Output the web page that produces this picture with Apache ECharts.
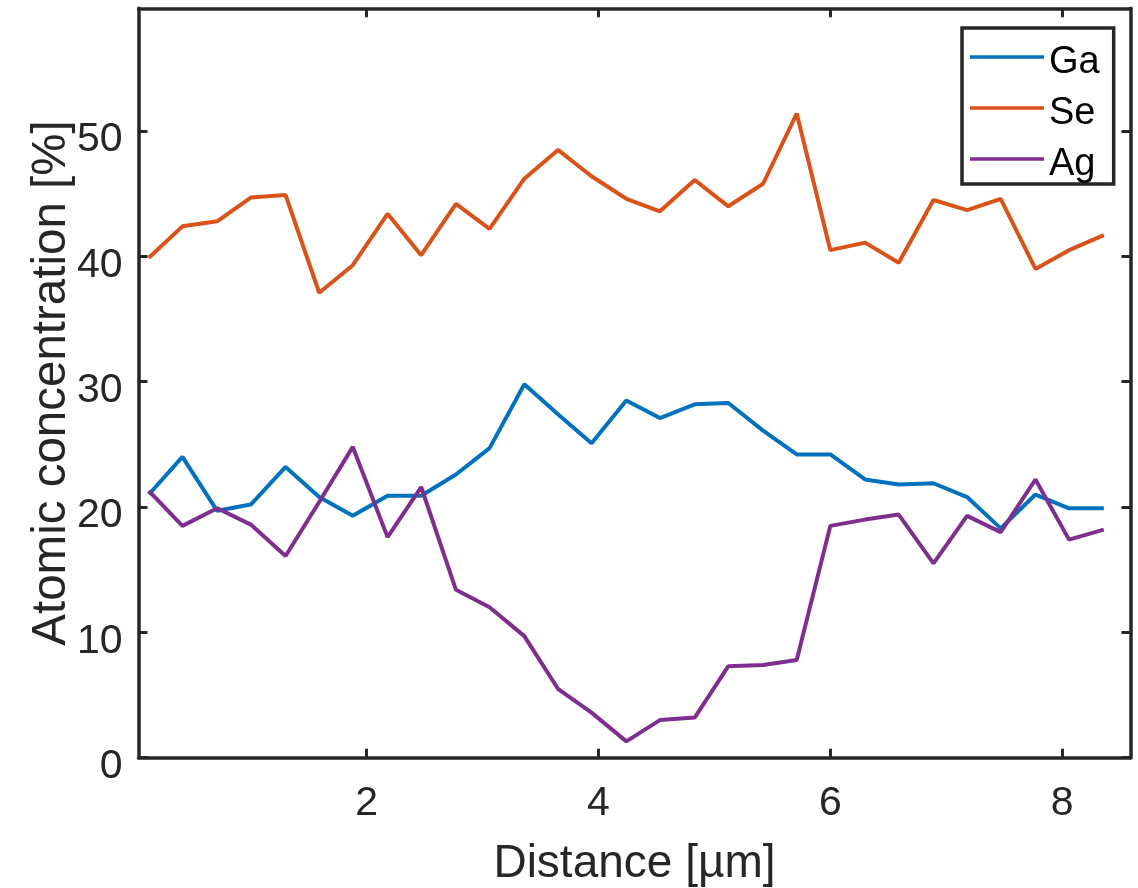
<!DOCTYPE html>
<html>
<head>
<meta charset="utf-8">
<script src="https://cdn.jsdelivr.net/npm/echarts@6/dist/echarts.min.js"></script>
<style>
html, body { margin: 0; padding: 0; background: #fff; }
#chart { width: 1138px; height: 888px; }
</style>
</head>
<body>
<div id="chart"></div>
<script>
const distance = [0.12, 0.41, 0.71, 1.00, 1.30, 1.59, 1.88, 2.18, 2.47, 2.77, 3.06, 3.36, 3.65, 3.94, 4.24, 4.53, 4.83, 5.12, 5.42, 5.71, 6.00, 6.30, 6.59, 6.89, 7.18, 7.47, 7.77, 8.06, 8.36];
const ga = [21.0, 24.0, 19.7, 20.2, 23.2, 20.8, 19.3, 20.9, 20.9, 22.6, 24.7, 29.8, 27.4, 25.1, 28.5, 27.1, 28.2, 28.3, 26.1, 24.2, 24.2, 22.2, 21.8, 21.9, 20.8, 18.3, 21.0, 19.9, 19.9];
const se = [39.9, 42.4, 42.8, 44.7, 44.9, 37.1, 39.3, 43.4, 40.1, 44.2, 42.2, 46.2, 48.5, 46.4, 44.6, 43.6, 46.1, 44.0, 45.8, 51.4, 40.5, 41.1, 39.5, 44.5, 43.7, 44.6, 39.0, 40.5, 41.7];
const ag = [21.3, 18.5, 19.9, 18.6, 16.1, 20.4, 24.8, 17.6, 21.6, 13.4, 12.0, 9.7, 5.5, 3.6, 1.3, 3.0, 3.2, 7.3, 7.4, 7.8, 18.5, 19.0, 19.4, 15.5, 19.3, 18.0, 22.2, 17.4, 18.2];
const seriesNames = ['Ga', 'Se', 'Ag'];
const seriesColors = ['#0072BD', '#D95319', '#7E2F8E'];
const xTicks = [2, 4, 6, 8];
const yTicks = [0, 10, 20, 30, 40, 50];

const FONT = 'Liberation Sans, Arial, sans-serif';
const AX = '#262626';
const pairs = arr => distance.map((d, i) => [d, arr[i]]);
const values = [ga, se, ag];

const axisLine = { show: true, onZero: false, lineStyle: { color: AX, width: 3.5 } };
const tickStyle = { show: true, inside: true, length: 9, lineStyle: { color: AX, width: 3 } };

const chart = echarts.init(document.getElementById('chart'), null, { renderer: 'canvas' });
chart.setOption({
  backgroundColor: '#ffffff',
  animation: false,
  grid: { left: 138.5, right: 7.5, top: 8.3, bottom: 130.3, containLabel: false, outerBoundsMode: 'none' },
  xAxis: [
    {
      type: 'value', position: 'bottom', min: 0.031, max: 8.59,
      name: 'Distance [µm]', nameLocation: 'middle', nameGap: 84, nameMoveOverlap: false,
      nameTextStyle: { fontFamily: FONT, fontSize: 46, color: AX },
      axisLine: axisLine,
      axisTick: Object.assign({}, tickStyle, { customValues: xTicks }),
      axisLabel: { customValues: xTicks, fontFamily: FONT, fontSize: 41, color: AX, margin: 25 },
      splitLine: { show: false }
    },
    {
      type: 'value', position: 'top', min: 0.031, max: 8.59,
      axisLine: axisLine,
      axisTick: Object.assign({}, tickStyle, { customValues: xTicks }),
      axisLabel: { show: false },
      splitLine: { show: false }
    }
  ],
  yAxis: [
    {
      type: 'value', position: 'left', min: 0, max: 59.8,
      name: 'Atomic concentration [%]', nameLocation: 'middle', nameGap: 63, nameMoveOverlap: false,
      nameTextStyle: { fontFamily: FONT, fontSize: 47.5, color: AX },
      axisLine: axisLine,
      axisTick: Object.assign({}, tickStyle, { customValues: yTicks }),
      axisLabel: {
        customValues: yTicks, color: AX, margin: 16,
        formatter: '{v|{value}}',
        rich: { v: { fontFamily: FONT, fontSize: 41, color: AX, padding: [18, 0, 0, 0] } }
      },
      splitLine: { show: false }
    },
    {
      type: 'value', position: 'right', min: 0, max: 59.8,
      axisLine: axisLine,
      axisTick: Object.assign({}, tickStyle, { customValues: yTicks }),
      axisLabel: { show: false },
      splitLine: { show: false }
    }
  ],
  legend: {
    orient: 'vertical', left: 962, top: 28,
    data: seriesNames,
    icon: 'rect', itemWidth: 74, itemHeight: 3.5, itemGap: 1,
    padding: [4, 14, 0, 8],
    backgroundColor: '#ffffff',
    borderColor: AX, borderWidth: 3.5, borderRadius: 0,
    formatter: '{t|{name}}',
    textStyle: {
      fontFamily: FONT, fontSize: 38, color: '#000000',
      rich: { t: { fontFamily: FONT, fontSize: 38, color: '#000000', lineHeight: 36, padding: [12, 0, 0, 0] } }
    }
  },
  series: seriesNames.map((n, i) => ({
    name: n, type: 'line', xAxisIndex: 0, yAxisIndex: 0,
    data: pairs(values[i]),
    showSymbol: false, symbol: 'none',
    lineStyle: { color: seriesColors[i], width: 4 },
    itemStyle: { color: seriesColors[i] },
    z: 2 + i
  }))
});
</script>
</body>
</html>
